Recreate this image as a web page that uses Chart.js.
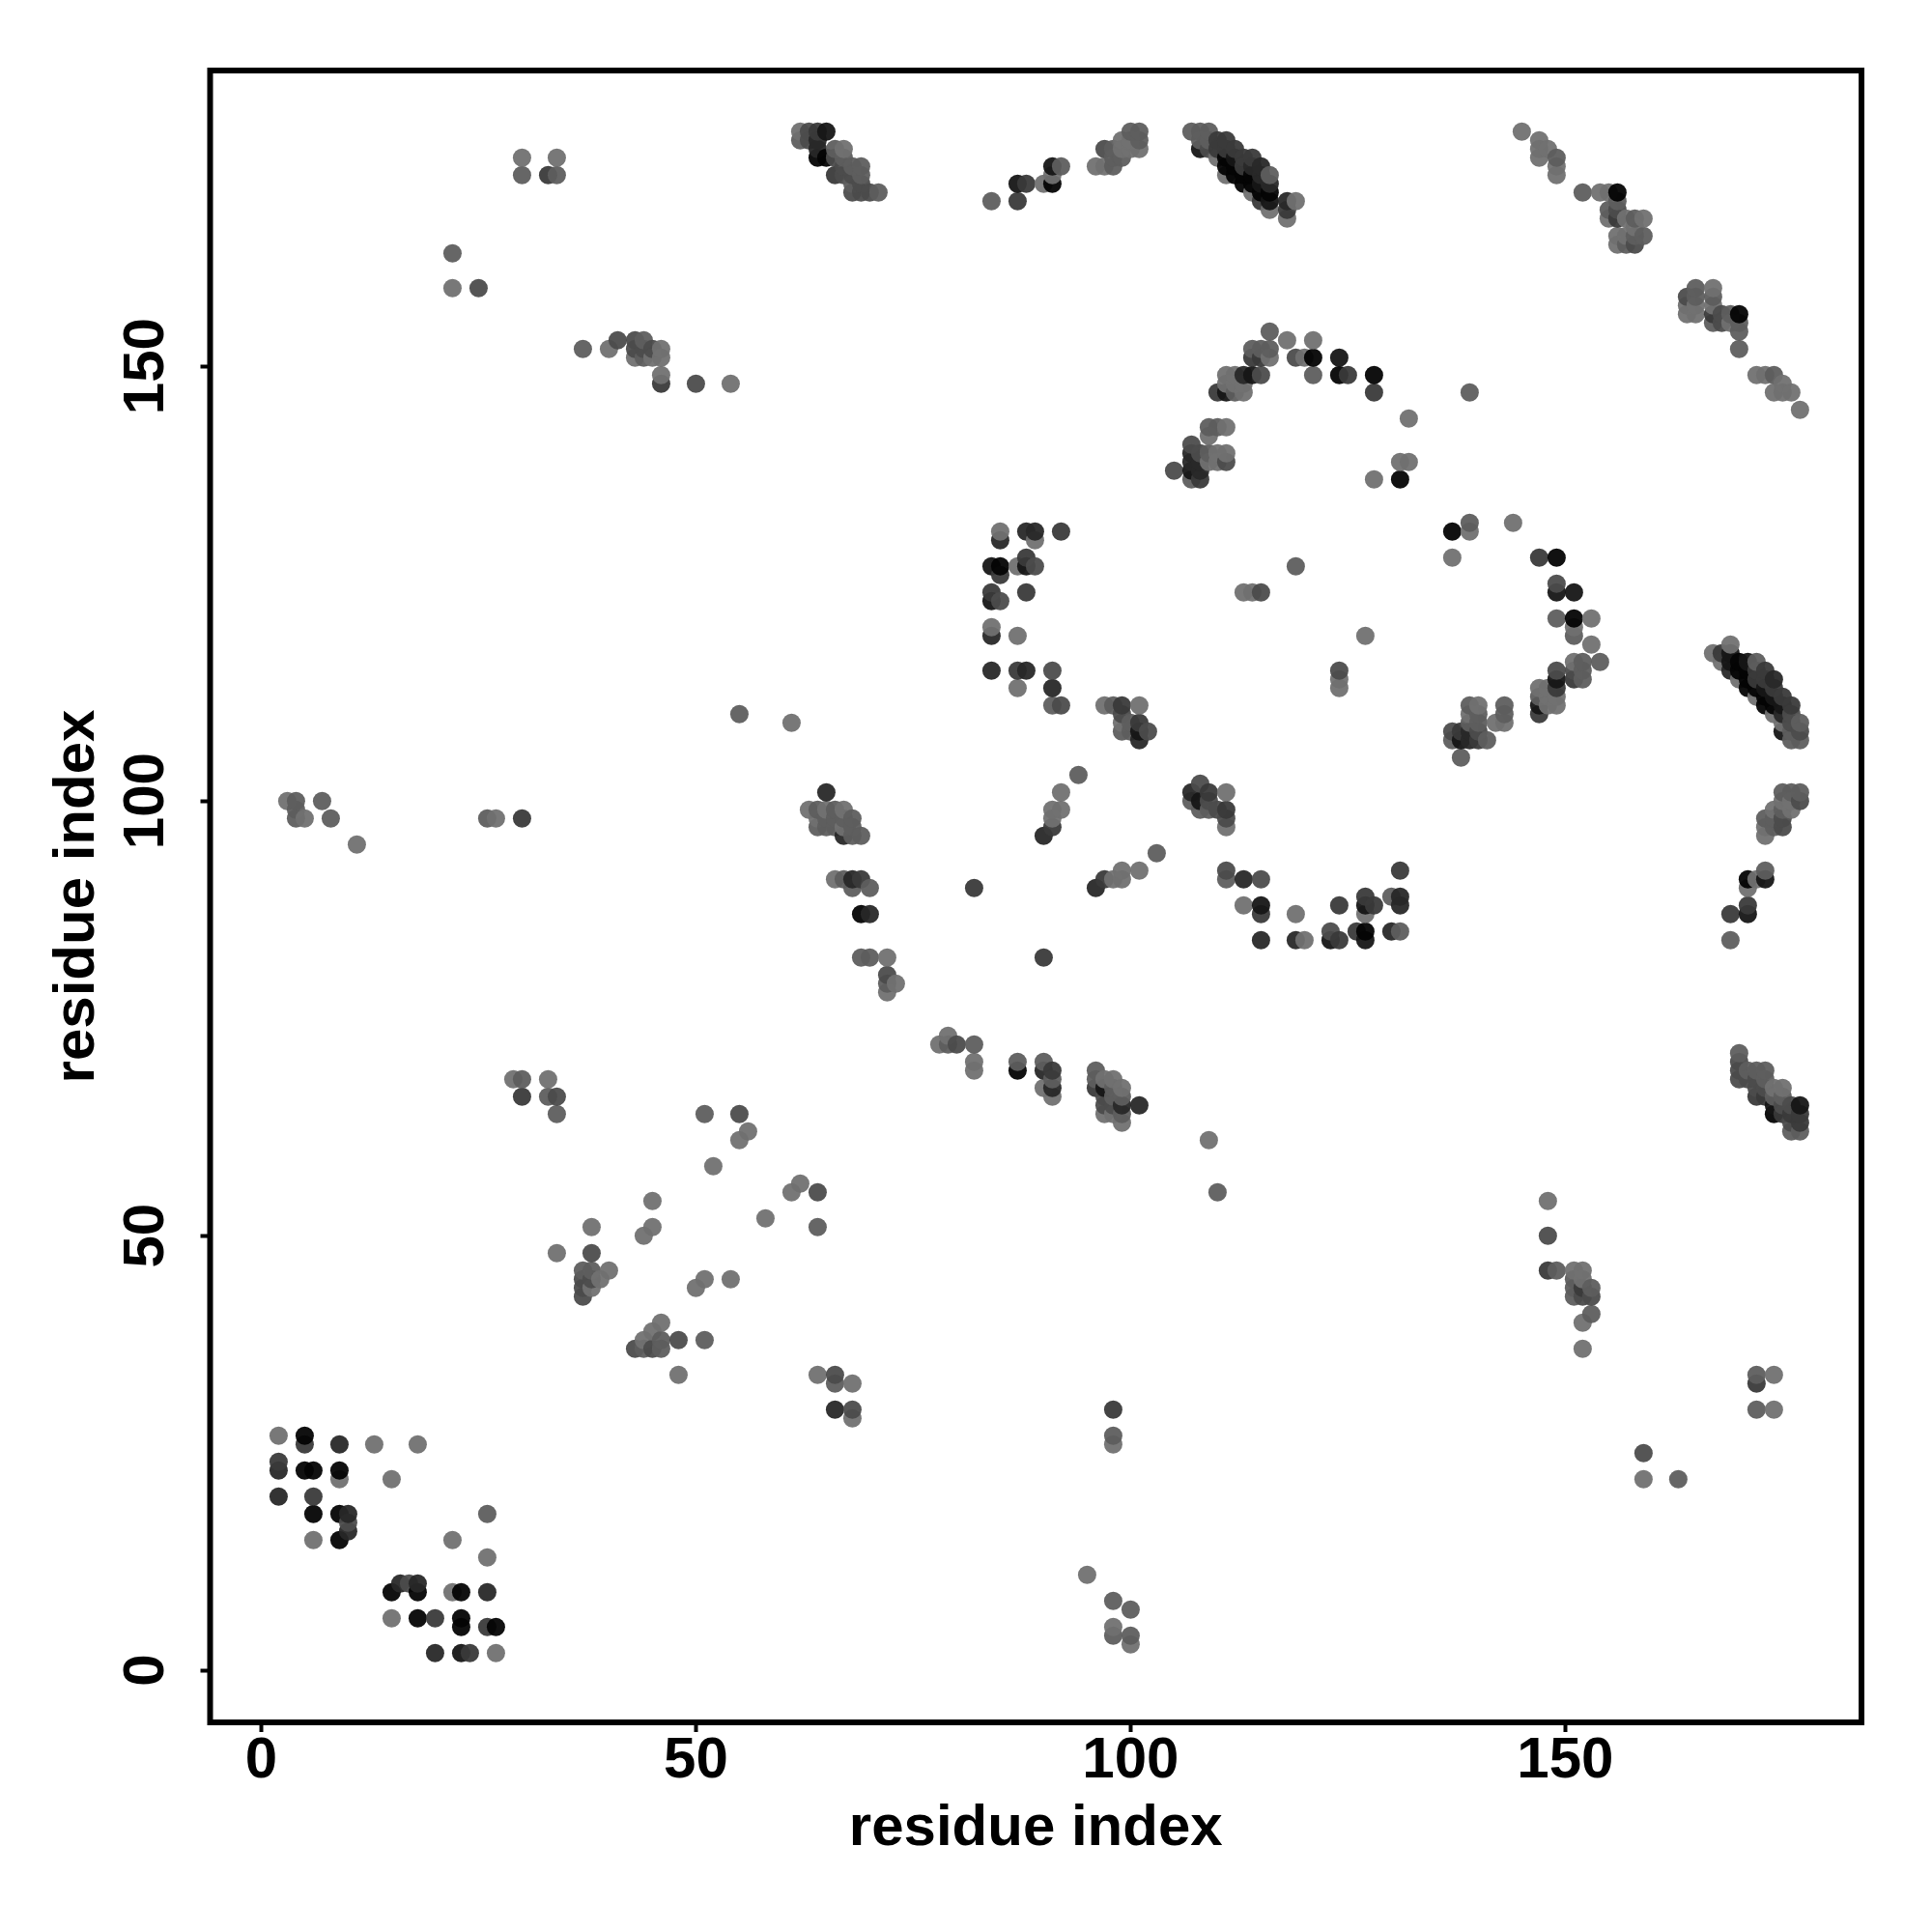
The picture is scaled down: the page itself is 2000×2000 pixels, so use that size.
<!DOCTYPE html>
<html>
<head>
<meta charset="utf-8">
<title>residue contacts</title>
<script src="https://cdn.jsdelivr.net/npm/chart.js@4/dist/chart.umd.min.js"></script>
<style>
	body { margin: 0; background: #fff; }
	canvas { display: block; }
</style>
</head>
<body>
<canvas id="chart_contacts" width="2000" height="2000"></canvas>
<script>
// every contact is [residue x, residue y, rank], rank 1 = strongest, 7 = weakest
const contactsLowerLeft = [
	[2,27,7],[5,27,1],[5,26,4],[9,26,3],[13,26,7],[18,26,7],[2,24,4],[2,23,3],[5,23,1],[6,23,1],[9,23,1],[9,22,7],
	[15,22,7],[2,20,3],[6,20,4],[6,18,1],[9,18,1],[10,18,3],[10,17,5],[10,16,3],[6,15,7],[9,15,1],[26,18,6],[22,15,7],
	[26,13,7],[15,9,1],[16,10,3],[17,10,5],[18,10,3],[18,9,1],[22,9,7],[23,9,1],[26,9,3],[15,6,7],[18,6,1],[20,6,4],
	[23,6,1],[23,5,1],[26,5,4],[27,5,1],[20,2,3],[23,2,2],[24,2,4],[27,2,7]
];
const contactsLowerMiddle = [
	[33,68,7],[30,68,6],[29,68,7],[30,66,4],[33,66,6],[34,66,5],[34,64,6],[51,64,6],[55,64,5],[56,62,7],[55,61,7],[52,58,7],
	[62,56,7],[61,55,7],[64,55,5],[58,52,7],[64,51,6],[45,54,7],[45,51,7],[44,50,7],[38,51,7],[34,48,7],[38,48,5],
	[37,46,6],[38,46,6],[40,46,7],[37,45,5],[38,45,5],[39,45,7],[37,44,5],[38,44,7],[37,43,5],
	[46,40,7],[45,39,7],[44,38,7],[46,38,6],[48,38,5],[51,38,6],[43,37,5],[44,37,6],[45,37,5],[46,37,6],[48,34,7],
	[50,44,7],[51,45,7],[54,45,7],[64,34,7],[66,34,5],[66,33,6],[68,33,7],[66,30,3],[68,30,5],[68,29,7],
	[98,30,4],[98,27,6],[98,26,7],[95,11,7],[98,8,6],[100,7,6],[98,5,7],[98,4,6],[100,4,6],[100,3,7]
];
const contactsLowerRight = [
	[148,54,7],[148,50,5],[148,46,4],[149,46,6],[151,46,7],[152,46,7],[151,45,6],[152,45,7],[151,44,6],[152,44,4],[153,44,6],
	[151,43,6],[152,43,5],[153,43,5],[153,41,6],[152,40,7],[152,37,7],[172,34,6],[174,34,7],[172,33,4],[172,30,6],[174,30,7],
	[159,25,5],[159,22,7],[163,22,6],[109,61,7],[110,55,6]
];
const contactsMiddle = [
	[72,82,7],[69,82,6],[70,82,6],[72,80,5],[72,79,6],[73,79,7],[72,78,7],[78,72,7],[79,73,7],[79,72,6],[80,72,5],[82,72,6],
	[82,70,7],[82,69,7],[87,70,6],[87,69,1],[90,70,6],[90,69,3],[91,69,4],[91,68,6],[91,67,3],[90,67,7],[91,66,7],
	[96,69,6],[96,68,6],[96,67,4],[97,68,7],[98,68,7],[99,67,7],[97,67,2],[97,66,5],[97,65,5],[97,64,7],[98,67,6],[98,66,6],
	[98,65,5],[98,64,7],[99,66,6],[99,65,3],[99,64,6],[99,63,7],[101,65,3],
	[65,101,3],[63,99,7],[64,99,6],[65,99,7],[66,99,6],[67,99,7],[64,98,7],[65,98,6],[66,98,6],[67,98,6],[68,98,6],
	[64,97,6],[65,97,6],[66,97,6],[67,97,7],[68,97,6],[67,96,3],[68,96,6],[69,96,6],
	[66,91,7],[67,91,6],[68,91,3],[69,91,4],[70,90,6],[68,90,6],[69,87,1],[70,87,3],
	[55,110,6],[61,109,7],[3,100,7],[4,100,6],[7,100,6],[4,99,6],[4,98,6],[5,98,7],[8,98,6],[11,95,7],[26,98,6],[27,98,7],[30,98,4]
];
const contactsCentre = [
	[85,131,7],[88,131,3],[89,131,3],[92,131,4],[85,130,3],[89,130,7],[88,128,4],[84,127,2],[85,127,1],[87,127,7],[88,127,2],
	[89,127,5],[85,126,4],[84,124,4],[88,124,4],[84,123,2],[85,123,5],[84,120,7],[84,119,3],[87,119,7],[84,115,3],[87,115,4],
	[88,115,3],[91,115,5],[87,113,7],[91,113,3],[91,111,6],[92,111,5],[97,111,7],[98,111,6],[99,111,4],[101,111,7],
	[99,110,5],[99,109,7],[100,109,6],[101,109,4],[99,108,6],[100,108,6],[101,108,2],[102,108,5],[101,107,3],
	[94,103,6],[92,101,7],[91,99,7],[92,99,7],[91,98,7],[91,97,4],[90,96,3],
	[108,102,5],[107,101,3],[109,101,4],[111,101,7],[107,100,6],[108,100,2],[109,100,5],[108,99,6],[109,99,6],[110,99,5],
	[111,99,4],[111,98,5],[111,97,7],[103,94,6],[101,92,7],[99,92,7],[97,91,4],[98,91,7],[99,91,7],[96,90,3],[82,90,4],
	[111,92,5],[111,91,6],[113,91,3],[115,91,5],[113,88,7],[115,88,2],[115,87,4],[119,87,7],[115,84,3],[119,84,3],[120,84,7],
	[123,85,5],[123,84,2],[124,84,4],[124,88,4],[126,85,4],[127,85,1],[127,84,2],[127,89,4],[127,88,2],[128,88,4],[127,87,7],
	[130,89,6],[131,89,3],[131,88,3],[131,92,4],[130,85,3],[131,85,6],[90,82,4],
	[113,124,7],[114,124,7],[115,124,5],[119,127,6],[127,119,7],[124,115,5],[124,114,7],[124,113,7]
];
const contactsArc = [
	[116,154,6],[118,153,7],[121,153,7],[114,152,6],[115,152,6],[116,152,6],[116,151,7],[114,151,4],[115,151,4],
	[119,151,5],[120,151,7],[121,151,1],[124,151,2],[111,149,7],[112,149,7],[113,149,3],[114,149,2],[115,149,5],[121,149,6],
	[124,149,1],[125,149,4],[128,149,1],[111,148,7],[112,148,7],[113,148,7],[110,147,4],[111,147,2],[112,147,6],[113,147,7],
	[128,147,4],[139,147,6],[132,144,7],[109,143,6],[110,143,6],[111,143,7],[109,142,7],[107,141,5],[107,140,3],[108,140,5],
	[109,140,6],[110,140,7],[111,140,7],[107,139,3],[108,139,3],[109,139,7],[110,139,7],[111,139,5],[131,139,7],[132,139,7],
	[105,138,5],[107,138,2],[108,138,3],[107,137,6],[108,137,4],[128,137,7],[131,137,1]
];
const contactsRightRing = [
	[137,131,1],[139,132,6],[139,131,7],[144,132,7],[137,128,7],[147,128,4],[149,128,1],[149,125,5],[149,124,2],[151,124,2],
	[149,121,6],[151,121,1],[153,121,7],[151,120,7],[151,119,6],[153,118,7],[151,116,7],[152,116,6],[154,116,6],[149,115,5],
	[151,115,5],[152,115,6],[149,114,2],[151,114,4],[152,114,6],[149,113,4],[147,113,7],[148,113,7],[147,112,6],[148,112,7],
	[149,112,7],[147,111,2],[148,111,7],[149,111,7],[147,110,4],[139,111,6],[140,111,7],[143,111,6],[139,110,7],[140,110,6],
	[143,110,6],[139,109,6],[140,109,6],[142,109,7],[143,109,7],[137,108,5],[138,108,4],[139,108,3],[140,108,5],[137,107,6],
	[138,107,2],[139,107,3],[140,107,4],[141,107,6],[138,105,6]
];
const contactsRightBand = [
	[169,118,7],[167,117,7],[168,117,4],[169,117,2],[168,116,7],[169,116,2],[170,116,1],[171,116,2],[172,116,6],[169,115,3],
	[170,115,1],[171,115,1],[172,115,4],[173,115,4],[170,114,7],[171,114,1],[172,114,4],[173,114,4],[174,114,3],[171,113,1],
	[172,113,1],[173,113,2],[174,113,4],[172,112,7],[173,112,1],[174,112,2],[175,112,4],[173,111,1],[174,111,1],[175,111,2],
	[176,111,4],[174,110,7],[175,110,3],[176,110,5],[175,109,7],[176,109,5],[177,109,6],[175,108,2],[176,108,6],[177,108,5],
	[176,107,6],[177,107,6],
	[175,101,6],[176,101,6],[177,101,6],[175,100,7],[176,100,7],[177,100,5],[174,99,7],[175,99,6],[176,99,7],[173,98,6],
	[174,98,6],[175,98,5],[173,97,7],[174,97,6],[175,97,5],[173,96,7],[173,92,6],[173,91,2],[171,91,1],[172,91,7],[171,90,7],
	[171,88,4],[171,87,2],[169,87,4],[169,84,6],
	[170,71,6],[170,70,5],[170,69,5],[170,68,5],[171,69,6],[172,69,6],[173,69,6],[171,68,5],[172,68,5],[173,68,6],[172,67,5],
	[172,66,4],[173,67,5],[174,67,7],[175,67,7],[173,66,4],[174,66,6],[175,66,6],[174,65,2],[175,65,5],[176,65,5],[177,65,2],
	[174,64,1],[175,64,4],[176,64,4],[177,64,4],[176,63,5],[177,63,4],[176,62,6],[177,62,6]
];
const contactsTopLeft = [
	[30,174,7],[34,174,7],[30,172,6],[33,172,4],[34,172,6],[22,163,6],[22,159,7],[25,159,5],[37,152,6],[40,152,7],[41,153,5],
	[43,153,5],[44,153,6],[43,152,5],[44,152,5],[45,152,5],[46,152,7],[43,151,7],[44,151,6],[45,151,7],[46,151,7],[46,149,7],
	[46,148,4],[50,148,5],[54,148,7]
];
const contactsTopMiddle = [
	[62,177,7],[63,177,5],[64,177,4],[65,177,2],[62,176,6],[63,176,5],[64,176,3],[64,175,3],[66,175,6],[67,175,7],[64,174,1],
	[65,174,1],[66,174,5],[67,174,6],[67,173,5],[68,173,6],[69,173,6],[66,172,4],[67,172,5],[68,172,5],[69,172,6],[68,171,6],
	[69,171,5],[68,170,5],[69,170,5],[70,170,5],[71,170,6],
	[84,169,6],[87,169,4],[87,171,2],[88,171,4],[90,171,7],[91,171,1],[91,172,7],[91,173,2],[92,173,6],
	[96,173,7],[97,173,7],[98,173,6],[99,174,6],[97,175,5],[98,175,6],[98,174,6],[99,176,7],[100,176,7],[100,177,6],[101,177,6],
	[101,176,6],[101,175,7],[100,175,7],[99,175,7],
	[107,177,6],[108,177,6],[109,177,6],[108,176,6],[109,176,6],[108,175,2],[109,175,5],[110,176,4],[111,176,4],[110,175,4],
	[111,175,4],[112,175,4],[110,174,7],[111,174,1],[112,174,2],[113,174,4],[114,174,4],[111,173,1],[112,173,1],[113,173,4],
	[114,173,3],[115,173,3],[111,172,7],[112,172,1],[113,172,1],[114,172,1],[115,172,3],[116,172,6],[113,171,1],[114,171,1],
	[115,171,2],[116,171,3],[114,170,7],[115,170,1],[116,170,1],[115,169,4],[116,169,2],[116,168,7],[118,169,3],[119,169,7],
	[118,168,4],[118,167,7]
];
const contactsTopRight = [
	[145,177,7],[147,176,7],[147,175,7],[148,175,7],[147,174,7],[149,174,6],[149,173,7],[149,172,7],[152,170,6],[154,170,7],
	[155,170,7],[156,170,1],[156,169,6],[155,168,6],[156,168,5],[155,167,7],[156,167,4],[157,167,7],[158,167,6],[159,167,7],
	[158,166,7],[156,165,7],[157,165,7],[158,165,6],[159,165,6],[156,164,7],[157,164,6],[158,164,5],
	[165,159,6],[167,159,7],[164,158,5],[165,158,6],[167,158,6],[164,157,7],[165,157,7],[167,157,7],[164,156,7],[165,156,7],
	[167,156,4],[168,156,5],[169,156,6],[170,156,1],[167,155,6],[168,155,5],[169,155,7],[170,155,6],[170,154,6],[170,152,6],
	[172,149,7],[173,149,7],[174,149,6],[175,148,7],[174,147,7],[175,147,7],[176,147,7],[177,145,7]
];
const tickValues = [0, 50, 100, 150];
const axisTitle = 'residue index';

// grey of each rank, index 0 = rank 1
const rankColors = ['rgba(4,4,4,.95)', 'rgba(22,22,22,.95)', 'rgba(40,40,40,.95)', 'rgba(58,58,58,.95)', 'rgba(76,76,76,.95)', 'rgba(94,94,94,.95)', 'rgba(113,113,113,.95)'];

// drawn column by column, low to high, the later point sits on top
let contacts = [].concat(
	contactsLowerLeft, contactsLowerMiddle, contactsLowerRight, contactsMiddle, contactsCentre, contactsArc,
	contactsRightRing, contactsRightBand, contactsTopLeft, contactsTopMiddle, contactsTopRight
);
contacts.sort((a, b) => a[0] - b[0] || a[1] - b[1]);

let tickFont = { family: '"Liberation Sans"', size: 60, weight: 'bold' };

// box around the plot
let boxPlugin = {
	id: 'box',
	afterDraw(chart) {
		let a = chart.chartArea;
		let c = chart.ctx;
		c.save();
		c.strokeStyle = '#000';
		c.lineWidth = 6;
		c.strokeRect(a.left, a.top, a.right - a.left, a.bottom - a.top);
		c.restore();
	}
};

let setTicks = axis => { axis.ticks = tickValues.map(v => ({ value: v })); };

let axisGrid = { drawOnChartArea: false, drawTicks: true, tickLength: 10, tickWidth: 4, tickColor: '#000' };

new Chart(document.getElementById('chart_contacts'), {
	type: 'scatter',
	data: {
		datasets: [{
			data: contacts.map(p => ({ x: p[0], y: p[1] })),
			pointBackgroundColor: contacts.map(p => rankColors[p[2] - 1]),
			pointBorderWidth: 0,
			pointRadius: 9.5,
			pointHoverRadius: 9.5
		}]
	},
	plugins: [boxPlugin],
	options: {
		responsive: false,
		animation: false,
		layout: { autoPadding: false, padding: { left: 0, top: 73, right: 73, bottom: 0 } },
		plugins: { legend: { display: false }, tooltip: { enabled: false } },
		scales: {
			x: {
				type: 'linear',
				min: -5.88,
				max: 184.07,
				afterBuildTicks: setTicks,
				afterFit: axis => { axis.height = 217; },
				grid: axisGrid,
				border: { display: false },
				ticks: { color: '#000', font: tickFont, padding: -6, autoSkip: false, maxRotation: 0 },
				title: { display: true, text: axisTitle, color: '#000', font: tickFont, padding: { top: 0, bottom: 71 } }
			},
			y: {
				type: 'linear',
				min: -5.98,
				max: 184.02,
				afterBuildTicks: setTicks,
				afterFit: axis => { axis.width = 217.5; },
				grid: axisGrid,
				border: { display: false },
				ticks: { color: '#000', font: tickFont, padding: 5, autoSkip: false, minRotation: 90, maxRotation: 90, crossAlign: 'center' },
				title: { display: true, text: axisTitle, color: '#000', font: tickFont, padding: { top: 44, bottom: 0 } }
			}
		}
	}
});
</script>
</body>
</html>
